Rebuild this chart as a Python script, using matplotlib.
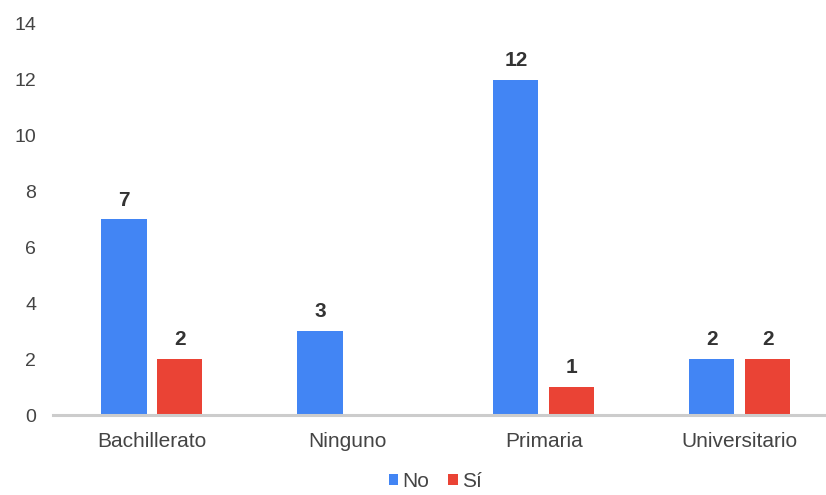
import matplotlib.pyplot as plt
import numpy as np

plt.rcParams['font.family'] = ['Liberation Sans', 'DejaVu Sans']

categories = ["Bachillerato", "Ninguno", "Primaria", "Universitario"]
no_values = [7, 3, 12, 2]
si_values = [2, 0, 1, 2]
series_names = ["No", "Sí"]
colors = ["#4285F4", "#EA4335"]

fig = plt.figure(figsize=(8.26, 4.95), dpi=100)
ax = fig.add_axes([0.064, 0.1616, 0.936, 0.79])

x = np.arange(len(categories))
w = 0.23
off = 0.142
bars_no = ax.bar(x - off, no_values, w, color=colors[0], label=series_names[0])
bars_si = ax.bar(x + off, si_values, w, color=colors[1], label=series_names[1])

for bars in (bars_no, bars_si):
    for b in bars:
        h = b.get_height()
        if h > 0:
            ax.annotate(f"{h:g}", (b.get_x() + b.get_width() / 2, h),
                        xytext=(0, 7), textcoords="offset points",
                        ha="center", va="bottom", fontsize=15,
                        fontweight="bold", color="#333333")

ax.set_ylim(0, 14)
ax.set_yticks(range(0, 15, 2))
ax.set_xlim(-0.505, 3.44)
ax.set_xticks(x)
ax.set_xticklabels(categories)

for s in ["top", "right", "left"]:
    ax.spines[s].set_visible(False)
ax.spines["bottom"].set_color("#cccccc")
ax.spines["bottom"].set_linewidth(2.2)
ax.tick_params(axis="y", length=0, pad=12, labelsize=14, labelcolor="#444444")
ax.tick_params(axis="x", length=0, pad=12.5, labelsize=15, labelcolor="#444444")

fig.legend(loc="lower center", bbox_to_anchor=(0.527, -0.03), ncol=2,
           frameon=False, fontsize=15, handlelength=0.45, handleheight=0.45,
           handletextpad=0.2, columnspacing=0.9, labelcolor="#444444")

fig.savefig("out.png", dpi=100)
